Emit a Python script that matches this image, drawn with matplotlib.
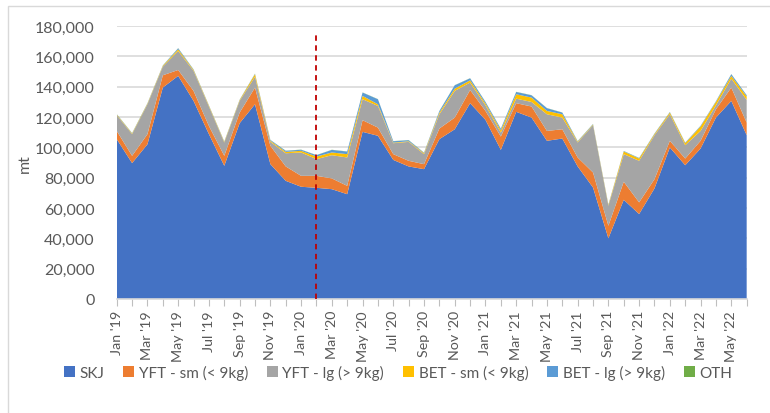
import numpy as np
import matplotlib
matplotlib.use("Agg")
import matplotlib.pyplot as plt
from matplotlib.patches import Rectangle
from matplotlib.ticker import FuncFormatter

plt.rcParams['font.family'] = ['Lato', 'DejaVu Sans']

# monthly catch, Jan 2019 - Jun 2022 (mt)
months = ['Jan', 'Feb', 'Mar', 'Apr', 'May', 'Jun', 'Jul', 'Aug', 'Sep', 'Oct', 'Nov', 'Dec']
years = ['19', '20', '21', '22']
labels = [f"{m} '{y}" for y in years for m in months][:42]

skj = [105400, 89600, 102000, 139400, 147100, 130600, 108700, 87800, 115900, 128400,
       88900, 77900, 74000, 73300, 72400, 69100, 110200, 107600, 91700, 87400,
       85600, 105400, 111900, 129100, 118100, 98300, 123400, 119600, 104300, 105800,
       87400, 73500, 40000, 65400, 56000, 72900, 99900, 88200, 99200, 119600,
       130600, 108000]
yft_sm = [5400, 4800, 6700, 8100, 3900, 6600, 5400, 6600, 7000, 11000,
          12100, 9500, 7200, 7900, 7100, 5500, 7700, 5400, 3800, 3700,
          3300, 7000, 7700, 8700, 5900, 8800, 5700, 7300, 6500, 6100,
          5900, 9900, 8300, 11900, 7700, 6100, 4400, 4400, 5100, 5500,
          8800, 8300]
yft_lg = [10400, 14300, 19700, 5700, 12500, 13200, 12800, 8800, 7700, 7200,
          2600, 8700, 15400, 11000, 15300, 18700, 13800, 14300, 7200, 12500,
          6600, 9400, 17600, 4900, 3700, 2600, 3000, 3000, 11000, 7700,
          9900, 31200, 13200, 18200, 27400, 29000, 17500, 8800, 6500, 2600,
          5900, 15000]
bet_sm = [400, 400, 400, 500, 1100, 600, 500, 400, 500, 1600,
          700, 900, 1100, 1700, 1800, 2200, 2200, 1100, 400, 400,
          600, 1100, 1500, 1500, 1200, 1500, 2900, 2900, 2200, 2200,
          500, 400, 500, 1700, 1500, 700, 1100, 1300, 2900, 2200,
          1800, 2200]
bet_lg = [200, 200, 200, 200, 700, 300, 200, 200, 200, 300,
          500, 700, 700, 900, 1700, 1700, 2200, 3300, 900, 700,
          300, 1000, 2200, 1300, 1000, 1000, 1500, 1500, 1800, 1100,
          300, 300, 200, 300, 300, 300, 300, 300, 400, 400,
          1100, 800]
oth = [100] * 42

series_names = ['SKJ', 'YFT - sm (< 9kg)', 'YFT - lg (> 9kg)',
                'BET - sm (< 9kg)', 'BET - lg (> 9kg)', 'OTH']
colors = ['#4472C4', '#ED7D31', '#A5A5A5', '#FFC000', '#5B9BD5', '#70AD47']
marker_month = 13  # Feb '20

x = np.arange(len(skj))

fig = plt.figure(figsize=(7.7, 4.14), dpi=100)
ax = fig.add_axes([0.1516, 0.2754, 0.8181, 0.6594])

# chart frame
fig.patches.append(Rectangle((0.011, -0.1), 1.2, 1.083, transform=fig.transFigure,
                             fill=False, edgecolor='#d9d9d9', linewidth=1))

ax.stackplot(x, skj, yft_sm, yft_lg, bet_sm, bet_lg, oth,
             colors=colors, labels=series_names, linewidth=0, zorder=2)
ax.axvline(marker_month, ymin=0, ymax=0.975, color='#C00000', linestyle=(0, (3, 2.5)),
           linewidth=1.3, zorder=3)

ax.set_xlim(0, len(x) - 1)
ax.set_ylim(0, 180000)
ax.set_yticks(np.arange(0, 180001, 20000))
ax.yaxis.set_major_formatter(FuncFormatter(lambda v, p: f"{int(v):,}"))
ax.grid(axis='y', color='#d9d9d9', linewidth=1.2, zorder=0)
ax.set_axisbelow(True)

ax.set_xticks(x)
ax.set_xticklabels([l if i % 2 == 0 else '' for i, l in enumerate(labels)], rotation=90)
ax.tick_params(axis='x', length=5, color='#bfbfbf', labelsize=10.3, labelcolor='#595959', pad=3)
ax.tick_params(axis='y', length=0, labelsize=11.5, labelcolor='#595959', pad=16)

for s in ['top', 'right', 'left']:
    ax.spines[s].set_visible(False)
ax.spines['bottom'].set_color('#d9d9d9')
ax.spines['bottom'].set_linewidth(1.2)

ax.set_ylabel('mt', fontsize=11.5, color='#595959', labelpad=2)

fig.legend(loc='center', bbox_to_anchor=(0.517, 0.098), ncol=6, frameon=False,
           fontsize=11, handlelength=0.7, handleheight=0.7, handletextpad=0.3,
           columnspacing=1.25, labelcolor='#595959')

fig.savefig('out.png', dpi=100)
